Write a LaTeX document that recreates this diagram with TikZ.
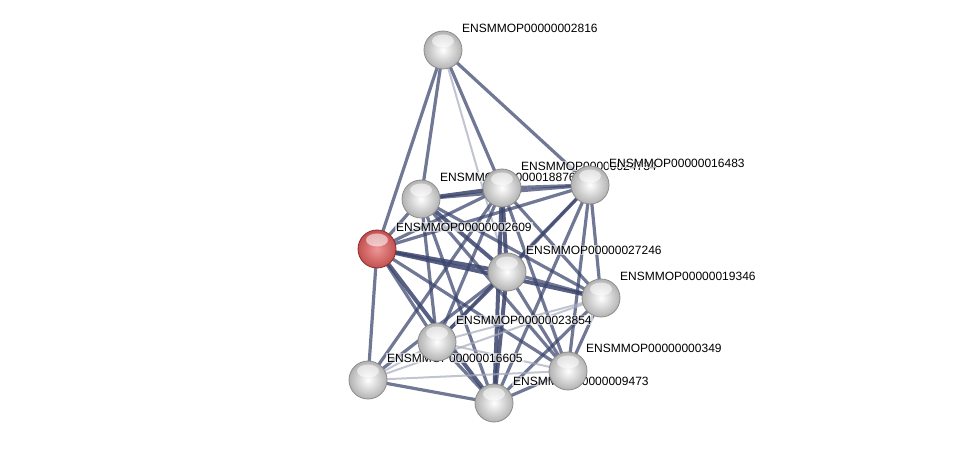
\documentclass[tikz,border=0pt]{standalone}
\usepackage{fontspec}
\setmainfont{Liberation Sans}
\begin{document}
\begin{tikzpicture}[x=1pt,y=-1pt,
  gloss/.style={path picture={\fill[white,opacity=0.55] ([yshift=9pt]path picture bounding box.center) ellipse (11pt and 6.5pt);}},
  ballnode/.style={circle,minimum size=38pt,inner sep=0pt,shading=radial,inner color=white,outer color=black!30,draw=black!45,line width=0.8pt,gloss},
  rednode/.style={circle,minimum size=38pt,inner sep=0pt,shading=radial,inner color=redin,outer color=redout,draw=redrim,line width=0.8pt,gloss},
  lbl/.style={anchor=west,inner sep=1pt,fill=white,fill opacity=0.6,text opacity=1,font=\fontsize{12}{14}\selectfont},
  es/.style={draw=edgec,line width=4pt,opacity=0.85},
  em/.style={draw=edgec,line width=3.2pt,opacity=0.72},
  el/.style={draw=edgec!45!white,line width=2pt,opacity=0.7}]
\definecolor{edgec}{RGB}{58,68,108}
\definecolor{redin}{RGB}{238,150,150}
\definecolor{redout}{RGB}{195,80,80}
\definecolor{redrim}{RGB}{140,45,45}
\useasboundingbox (0,0) rectangle (975,449);
% node coordinates
\coordinate (A) at (443,50);
\coordinate (B) at (421,199);
\coordinate (C) at (502,188);
\coordinate (D) at (590,185);
\coordinate (E) at (377,249);
\coordinate (F) at (507,272);
\coordinate (G) at (601,298);
\coordinate (H) at (437,342);
\coordinate (I) at (368,380);
\coordinate (J) at (568,371);
\coordinate (K) at (494,403);
% edges
\draw[em] (A) -- (E); \draw[em] (A) -- (B); \draw[em] (A) -- (C); \draw[em] (A) -- (D); \draw[el] (A) -- (F);
\draw[es] (B) -- (C); \draw[em] (B) -- (D); \draw[em] (B) -- (E); \draw[es] (B) -- (F); \draw[em] (B) -- (H);
\draw[em] (B) -- (J); \draw[em] (B) -- (K); \draw[em] (B) -- (G);
\draw[em] (C) -- (D); \draw[em] (C) -- (E); \draw[es] (C) -- (F); \draw[em] (C) -- (G); \draw[em] (C) -- (H);
\draw[em] (C) -- (I); \draw[em] (C) -- (J); \draw[es] (C) -- (K);
\draw[em] (D) -- (E); \draw[em] (D) -- (F); \draw[em] (D) -- (G); \draw[em] (D) -- (H); \draw[em] (D) -- (J); \draw[em] (D) -- (K);
\draw[es] (E) -- (F); \draw[es] (E) -- (G); \draw[em] (E) -- (H); \draw[em] (E) -- (I); \draw[em] (E) -- (J); \draw[es] (E) -- (K);
\draw[em] (F) -- (G); \draw[em] (F) -- (H); \draw[em] (F) -- (I); \draw[em] (F) -- (J); \draw[es] (F) -- (K);
\draw[el] (G) -- (H); \draw[el] (G) -- (I); \draw[em] (G) -- (J); \draw[em] (G) -- (K);
\draw[el] (H) -- (I); \draw[el] (H) -- (J); \draw[em] (H) -- (K);
\draw[el] (I) -- (J); \draw[em] (I) -- (K);
\draw[em] (J) -- (K);
% nodes and labels
\node[ballnode] (nA) at (A) {};
\node[lbl] (tA) at (461,28) {ENSMMOP00000002816};
\node[ballnode] (nB) at (B) {};
\node[lbl] (tB) at (439,177) {ENSMMOP00000018876};
\node[ballnode] (nC) at (C) {};
\node[lbl] (tC) at (520,166) {ENSMMOP00000024734};
\node[ballnode] (nD) at (D) {};
\node[lbl] (tD) at (608,163) {ENSMMOP00000016483};
\node[rednode] (nE) at (E) {};
\node[lbl] (tE) at (395,227) {ENSMMOP00000002609};
\node[ballnode] (nF) at (F) {};
\node[lbl] (tF) at (525,250) {ENSMMOP00000027246};
\node[ballnode] (nG) at (G) {};
\node[lbl] (tG) at (619,276) {ENSMMOP00000019346};
\node[lbl] (tH) at (455,320) {ENSMMOP00000023854};
\node[lbl] (tI) at (386,358) {ENSMMOP00000016605};
\node[ballnode] (nH) at (H) {};
\node[ballnode] (nI) at (I) {};
\node[lbl] (tK) at (512,381) {ENSMMOP00000009473};
\node[ballnode] (nJ) at (J) {};
\node[lbl] (tJ) at (585,348) {ENSMMOP00000000349};
\node[ballnode] (nK) at (K) {};
\end{tikzpicture}
\end{document}
